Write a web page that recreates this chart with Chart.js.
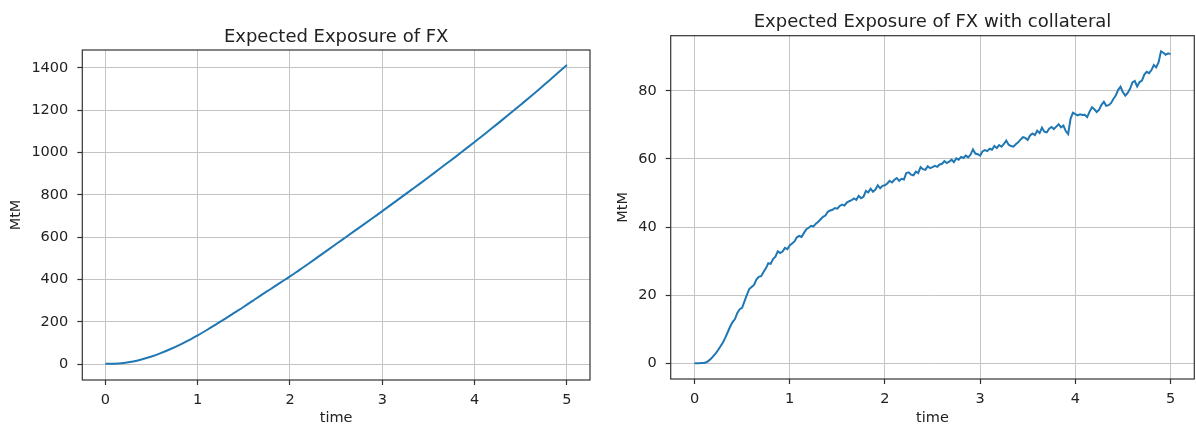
<!DOCTYPE html>
<html>
<head>
<meta charset="utf-8">
<script src="https://cdn.jsdelivr.net/npm/chart.js@4"></script>
<style>
  body { margin: 0; background: #fff; }
  #leftBox { position: absolute; left: 0; top: 0; width: 600px; height: 427px; }
  #rightBox { position: absolute; left: 600px; top: 0; width: 596px; height: 427px; }
</style>
</head>
<body>
<div id="leftBox"><canvas id="fxChart" width="600" height="427"></canvas></div>
<div id="rightBox"><canvas id="fxCollChart" width="596" height="427"></canvas></div>
<script>
// Expected exposure of FX, sampled every 0.1 year
const fxTimes = Array.from({ length: 51 }, (_, i) => i / 10);
const fxExposure = [
  3, 3, 6, 13, 24, 37, 53, 71, 91, 113,
  137, 162, 189, 216, 244, 272, 301, 330, 358, 387,
  415, 445, 475, 506, 537, 568, 599, 630, 661, 692,
  723, 755, 787, 819, 851, 883, 916, 949, 982, 1016,
  1050, 1084, 1119, 1154, 1190, 1226, 1262, 1299, 1337, 1375,
  1413
];

// Expected exposure of FX with collateral, sampled every 0.025 year
const collTimes = Array.from({ length: 201 }, (_, i) => i / 40);
const collExposure = [
  0.0, 0.0, 0.0, 0.1, 0.1, 0.3, 0.8, 1.4, 2.2, 3.0,
  4.0, 5.1, 6.2, 7.6, 9.2, 10.8, 12.1, 13.0, 14.8, 15.9,
  16.3, 18.2, 20.1, 21.8, 22.4, 23.0, 24.6, 25.4, 25.6, 26.8,
  27.9, 29.4, 29.2, 30.6, 31.3, 32.9, 32.4, 32.8, 33.9, 33.5,
  34.6, 35.2, 35.8, 37.0, 37.4, 37.1, 38.3, 39.4, 39.8, 40.4,
  40.2, 41.0, 41.6, 42.3, 43.0, 43.4, 44.5, 44.9, 45.1, 45.6,
  45.4, 46.2, 46.6, 46.3, 47.2, 47.6, 47.9, 48.4, 48.0, 49.2,
  48.5, 48.9, 50.6, 50.2, 51.3, 50.4, 51.0, 52.3, 51.4, 52.1,
  52.3, 52.8, 53.6, 53.1, 53.9, 54.4, 53.6, 54.2, 54.0, 55.9,
  56.1, 55.4, 55.2, 56.3, 55.9, 57.6, 57.0, 56.8, 57.9, 57.3,
  57.6, 58.0, 57.7, 58.4, 58.6, 59.4, 58.8, 59.2, 59.8, 59.1,
  60.2, 59.8, 60.6, 60.3, 61.0, 60.5, 61.3, 62.8, 61.6, 61.4,
  61.0, 62.2, 62.6, 62.3, 63.0, 62.7, 63.8, 63.2, 64.1, 63.6,
  64.4, 65.4, 64.2, 63.8, 63.6, 64.3, 64.9, 65.7, 66.4, 66.2,
  65.6, 66.9, 67.5, 67.0, 68.3, 67.6, 69.2, 68.0, 67.8, 68.9,
  69.4, 68.8, 69.5, 70.2, 69.3, 69.8, 68.2, 67.3, 71.8, 73.6,
  73.2, 72.8, 73.1, 72.9, 73.0, 72.3, 73.9, 75.2, 74.6, 73.8,
  74.5, 75.9, 76.8, 75.6, 75.8, 76.4, 77.6, 78.6, 80.3, 81.2,
  79.6, 78.6, 79.4, 80.6, 82.5, 82.9, 81.3, 82.6, 83.0, 84.8,
  85.6, 85.2, 86.1, 87.6, 86.9, 88.4, 91.6, 91.2, 90.6, 91.0,
  90.8
];

const timeTicks = [0, 1, 2, 3, 4, 5];
const fxTicks = [0, 200, 400, 600, 800, 1000, 1200, 1400];
const collTicks = [0, 20, 40, 60, 80];

Chart.defaults.font.family = "'DejaVu Sans', sans-serif";
Chart.defaults.color = "#222";

const lineColor = "#1f77b4";
const gridColor = "#c4c4c4";

// matplotlib style box around the plot area
const framePlugin = {
  id: "frame",
  afterDatasetsDraw(chart) {
    const { ctx, chartArea } = chart;
    ctx.save();
    ctx.strokeStyle = "#333";
    ctx.lineWidth = 1.2;
    ctx.strokeRect(chartArea.left, chartArea.top,
      chartArea.right - chartArea.left, chartArea.bottom - chartArea.top);
    ctx.restore();
  }
};

function makeOptions(cfg) {
  return {
    responsive: false,
    animation: false,
    layout: { padding: { left: 0, right: cfg.padRight, top: 0, bottom: 0 } },
    plugins: {
      legend: { display: false },
      tooltip: { enabled: false },
      title: {
        display: true,
        fullSize: false,
        text: cfg.title,
        color: "#222",
        font: { size: 18, weight: "normal" },
        padding: { top: cfg.titleTop, bottom: cfg.titleBottom }
      }
    },
    scales: {
      x: {
        type: "linear",
        min: -0.25,
        max: 5.25,
        afterBuildTicks: s => { s.ticks = timeTicks.map(v => ({ value: v })); },
        afterFit: s => { s.height = cfg.xHeight; },
        border: { display: false },
        grid: { color: gridColor, lineWidth: 1, tickLength: 5, tickColor: "#333", tickWidth: 1.2 },
        ticks: {
          padding: 7, autoSkip: false, maxRotation: 0,
          font: { size: 14.5 },
          callback: v => String(v)
        },
        title: { display: true, text: "time", font: { size: 14.5 }, padding: { top: 0, bottom: 0 } }
      },
      y: {
        type: "linear",
        min: cfg.yMin,
        max: cfg.yMax,
        afterBuildTicks: s => { s.ticks = cfg.yTicks.map(v => ({ value: v })); },
        afterFit: s => { s.width = cfg.yWidth; },
        border: { display: false },
        grid: { color: gridColor, lineWidth: 1, tickLength: 5, tickColor: "#333", tickWidth: 1.2 },
        ticks: {
          padding: 9, autoSkip: false,
          font: { size: 14.5 },
          callback: v => String(v)
        },
        title: { display: true, text: "MtM", font: { size: 14.5 }, padding: { top: cfg.yTitlePad, bottom: 0 } }
      }
    }
  };
}

new Chart(document.getElementById("fxChart"), {
  type: "line",
  data: {
    labels: fxTimes,
    datasets: [{
      data: fxExposure,
      borderColor: lineColor,
      borderWidth: 2,
      pointRadius: 0,
      cubicInterpolationMode: "monotone",
      fill: false
    }]
  },
  options: makeOptions({
    title: "Expected Exposure of FX",
    padRight: 10, titleTop: 26.2, titleBottom: 2.2,
    xHeight: 47, yWidth: 82.3, yTitlePad: 7.6,
    yMin: -74, yMax: 1484, yTicks: fxTicks
  }),
  plugins: [framePlugin]
});

new Chart(document.getElementById("fxCollChart"), {
  type: "line",
  data: {
    labels: collTimes,
    datasets: [{
      data: collExposure,
      borderColor: lineColor,
      borderWidth: 2,
      pointRadius: 0,
      tension: 0,
      fill: false
    }]
  },
  options: makeOptions({
    title: "Expected Exposure of FX with collateral",
    padRight: 1.7, titleTop: 11.9, titleBottom: 2.2,
    xHeight: 48, yWidth: 70.7, yTitlePad: 14.8,
    yMin: -4.6, yMax: 96.2, yTicks: collTicks
  }),
  plugins: [framePlugin]
});
</script>
</body>
</html>
